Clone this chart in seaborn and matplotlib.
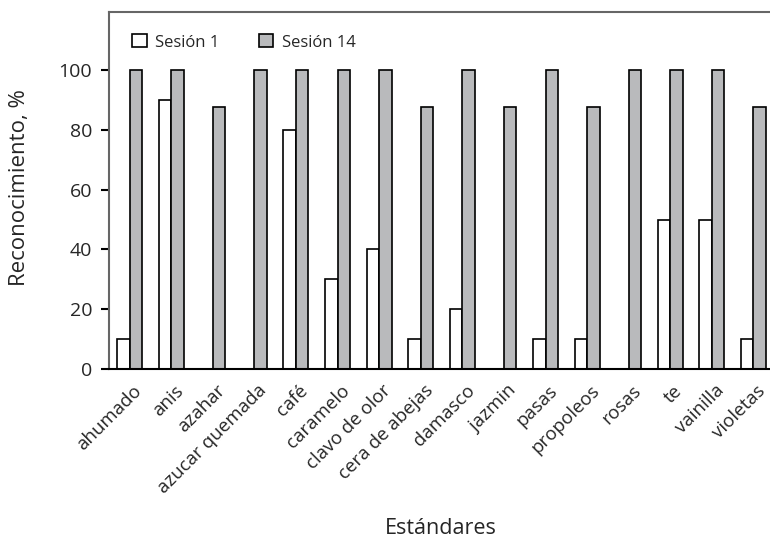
import pandas as pd
import seaborn as sns
import matplotlib.pyplot as plt
from matplotlib.transforms import ScaledTranslation

estandares = ['ahumado', 'anis', 'azahar', 'azucar quemada', 'café', 'caramelo',
              'clavo de olor', 'cera de abejas', 'damasco', 'jazmin', 'pasas',
              'propoleos', 'rosas', 'te', 'vainilla', 'violetas']
sesion_1 = [10, 90, 0, 0, 80, 30, 40, 10, 20, 0, 10, 10, 0, 50, 50, 10]
sesion_14 = [100, 100, 87.5, 100, 100, 100, 100, 87.5, 100, 87.5, 100, 87.5, 100, 100, 100, 87.5]

df = pd.DataFrame({
    'estandar': estandares * 2,
    'valor': sesion_1 + sesion_14,
    'sesion': ['Sesión 1'] * len(estandares) + ['Sesión 14'] * len(estandares),
})

sns.set_style('white')
plt.rcParams['font.family'] = ['Open Sans', 'DejaVu Sans']

fig = plt.figure(figsize=(7.7, 5.39), dpi=100)
ax = fig.add_axes([108.7 / 770, 1 - 369 / 539, 665.6 / 770, (369 - 12) / 539])

sns.barplot(data=df, x='estandar', y='valor', hue='sesion',
            palette=['white', '#b8babd'], edgecolor='black', linewidth=1.2,
            width=0.6, ax=ax)

ax.set_ylim(0, 119.4)
ax.set_xlim(-0.5, len(estandares) - 0.5)
ax.set_yticks([0, 20, 40, 60, 80, 100])
ax.set_xticks(range(len(estandares)))
ax.set_xticklabels(estandares, rotation=45, ha='right', rotation_mode='anchor')
ax.set_xticks([i - 0.5 for i in range(len(estandares))], minor=True)
ax.tick_params(axis='x', which='major', length=0, labelsize=13.5, pad=9)
ax.tick_params(axis='x', which='minor', length=5, width=1.5, direction='out', color='black')
ax.tick_params(axis='y', length=6, width=1.5, direction='out', color='black', labelsize=14, left=True, pad=6)

# desplazar etiquetas del eje x un poco a la derecha
offset = ScaledTranslation(0.03, 0, fig.dpi_scale_trans)
for lbl in ax.get_xticklabels():
    lbl.set_transform(lbl.get_transform() + offset)

for s in ['left', 'top']:
    ax.spines[s].set_color('#666666')
    ax.spines[s].set_linewidth(1.5)
ax.spines['bottom'].set_color('black')
ax.spines['bottom'].set_linewidth(1.5)
ax.spines['right'].set_visible(False)

ax.set_xlabel('Estándares', fontsize=15.5)
ax.set_ylabel('Reconocimiento, %', fontsize=16)
ax.xaxis.set_label_coords(0.499, -0.418)
ax.yaxis.set_label_coords(-0.118, 0.507)

ax.legend(loc='upper left', bbox_to_anchor=(0.013, 0.98), ncol=2, frameon=False,
          handlelength=0.85, handleheight=0.85, columnspacing=2.4, handletextpad=0.5,
          fontsize=12, title=None)

fig.savefig('out.png', dpi=100)
